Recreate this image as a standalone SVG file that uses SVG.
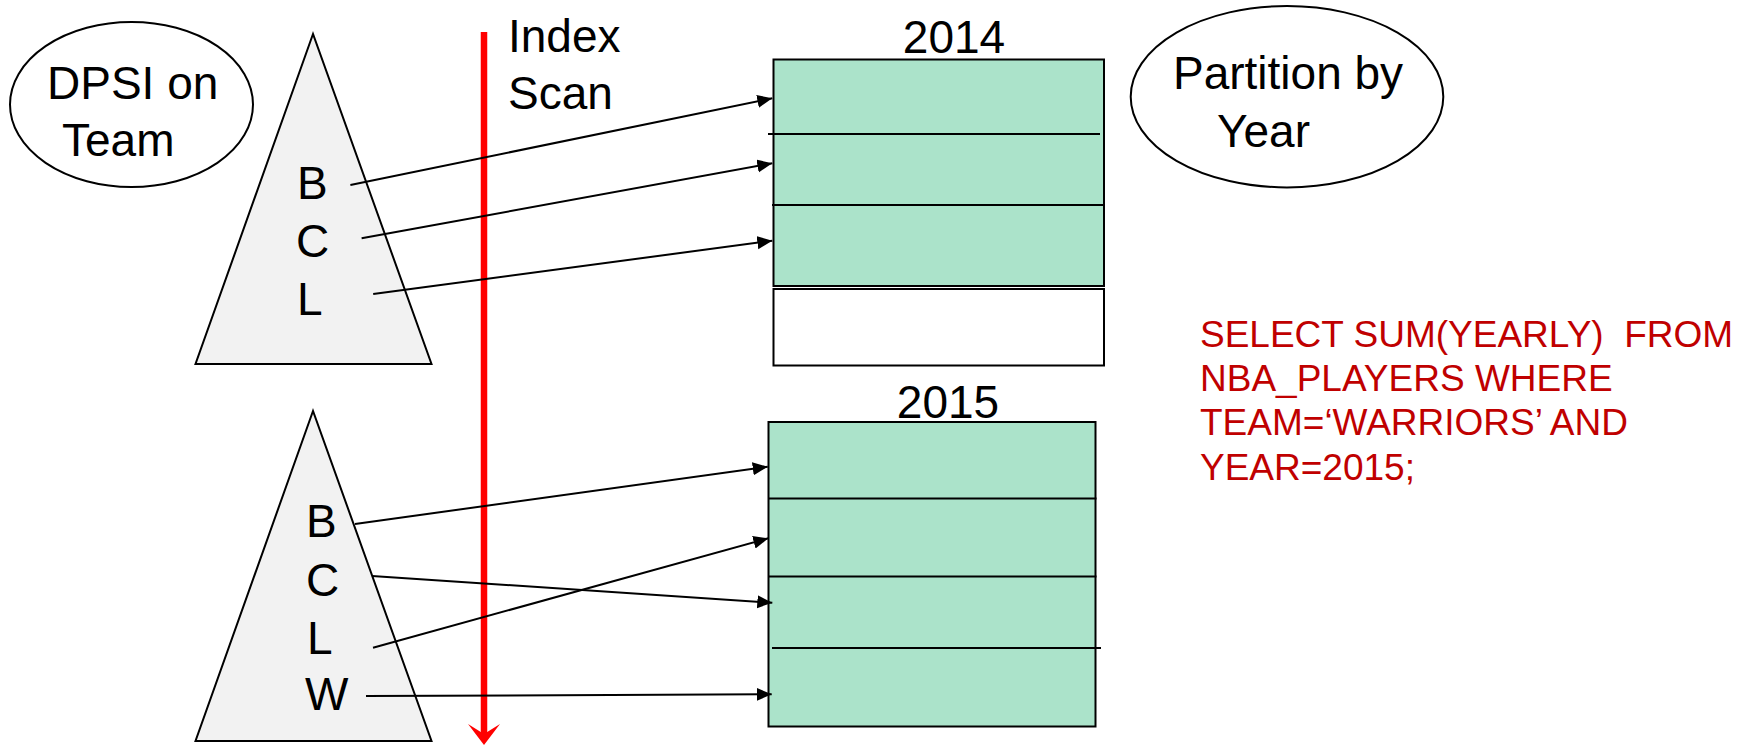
<svg xmlns="http://www.w3.org/2000/svg" width="1752" height="746" viewBox="0 0 1752 746">
  <style>
    .t { font-family: "Liberation Sans", Arial, sans-serif; font-size: 46px; fill: #000; }
    .sql { font-family: "Liberation Sans", Arial, sans-serif; font-size: 37px; fill: #c00000; }
    .ell { fill: #fff; stroke: #000; stroke-width: 2; }
    .tri { fill: #f2f2f2; stroke: #000; stroke-width: 2; }
    .box { fill: #abe3ca; stroke: #000; stroke-width: 2; }
    .sep { stroke: #000; stroke-width: 2; }
    .conn { stroke: #000; stroke-width: 2; fill: none; marker-end: url(#ah); }
  </style>
  <defs>
    <marker id="ah" markerUnits="userSpaceOnUse" markerWidth="16" markerHeight="14" refX="15" refY="6.5" orient="auto">
      <path d="M0,0 L15,6.5 L0,13 z" fill="#000"/>
    </marker>
  </defs>
  <rect width="1752" height="746" fill="#fff"/>

  <g id="dpsi-label">
    <ellipse class="ell" cx="131.5" cy="104.5" rx="121.5" ry="82.5"/>
    <text class="t" x="47" y="99">DPSI on</text>
    <text class="t" x="62" y="156">Team</text>
  </g>

  <g id="index-2014">
    <polygon class="tri" points="313,34 195.5,364 431.5,364"/>
    <text class="t" x="297" y="199">B</text>
    <text class="t" x="296" y="257">C</text>
    <text class="t" x="297" y="315">L</text>
  </g>

  <g id="index-2015">
    <polygon class="tri" points="313,411 195.5,741 431.5,741"/>
    <text class="t" x="306" y="537">B</text>
    <text class="t" x="306" y="596">C</text>
    <text class="t" x="307" y="654">L</text>
    <text class="t" x="305" y="710">W</text>
  </g>

  <g id="index-scan">
    <line x1="484" y1="32" x2="484" y2="735" stroke="#ff0000" stroke-width="6.5"/>
    <polygon points="468,724 484,745 500,724 484,734" fill="#ff0000"/>
    <text class="t" x="508" y="52">Index</text>
    <text class="t" x="508" y="109">Scan</text>
  </g>

  <g id="partition-2014">
    <text class="t" x="954" y="53" text-anchor="middle">2014</text>
    <rect class="box" x="773.5" y="59.5" width="330.5" height="226.5"/>
    <line class="sep" x1="768" y1="134" x2="1100" y2="134"/>
    <line class="sep" x1="772" y1="205" x2="1104" y2="205"/>
    <rect x="773.5" y="289" width="330.5" height="76.5" fill="#fff" stroke="#000" stroke-width="2"/>
  </g>

  <g id="partition-2015">
    <text class="t" x="948" y="418" text-anchor="middle">2015</text>
    <rect class="box" x="768.5" y="422" width="327" height="304.5"/>
    <line class="sep" x1="768.5" y1="498.5" x2="1096.5" y2="498.5"/>
    <line class="sep" x1="768.5" y1="576.5" x2="1096.5" y2="576.5"/>
    <line class="sep" x1="772" y1="648" x2="1101" y2="648"/>
  </g>

  <g id="partition-label">
    <ellipse class="ell" cx="1287" cy="96.7" rx="156.3" ry="90.7"/>
    <text class="t" x="1173" y="89">Partition by</text>
    <text class="t" x="1217" y="147">Year</text>
  </g>

  <g id="query">
    <text class="sql" x="1200" y="347" xml:space="preserve">SELECT SUM(YEARLY)  FROM</text>
    <text class="sql" x="1200" y="391">NBA_PLAYERS WHERE</text>
    <text class="sql" x="1200" y="435">TEAM=‘WARRIORS’ AND</text>
    <text class="sql" x="1200" y="480">YEAR=2015;</text>
  </g>

  <g id="connectors">
    <line class="conn" x1="350.4" y1="185" x2="772.3" y2="98.3"/>
    <line class="conn" x1="361.6" y1="238.3" x2="772.3" y2="163.3"/>
    <line class="conn" x1="373.2" y1="294" x2="772.3" y2="240.7"/>
    <line class="conn" x1="355" y1="524" x2="767.7" y2="466.7"/>
    <line class="conn" x1="373" y1="647.7" x2="768.3" y2="538.3"/>
    <line class="conn" x1="372" y1="576" x2="772.3" y2="602.7"/>
    <line class="conn" x1="366" y1="696" x2="771.7" y2="694.3"/>
  </g>
</svg>
